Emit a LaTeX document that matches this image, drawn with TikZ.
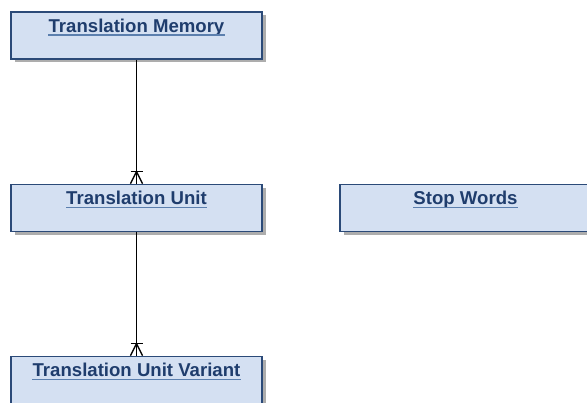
\documentclass[tikz,border=0pt]{standalone}
\usepackage{fontspec}
\setmainfont{Liberation Sans}
\usetikzlibrary{shadows}
\definecolor{entfill}{HTML}{D4E0F2}
\definecolor{entline}{HTML}{2B4A78}
\definecolor{enttext}{HTML}{1F3D6D}
\definecolor{entuline}{HTML}{5B7FAE}
\tikzset{
  entity/.style={draw=entline,line width=1.7pt,fill=entfill,minimum width=251pt,minimum height=47pt,
    inner sep=0pt,drop shadow={shadow xshift=3.5pt,shadow yshift=-3.5pt,fill=black!32,opacity=1}},
  title/.style={font=\fontsize{18.6}{20}\selectfont\bfseries,text=enttext,inner sep=0pt,anchor=base},
  uline/.style={draw=entuline,line width=1.5pt},
  rel/.style={draw=black,line width=1.3pt}
}
\newcommand{\enttitle}[2]{%
  \node[title] (#1t) at ([yshift=-21pt]#1.north) {#2};
  \draw[uline] ([yshift=-3pt]#1t.base west) -- ([yshift=-3pt]#1t.base east);}
\begin{document}
\begin{tikzpicture}[x=1pt,y=-1pt]
\useasboundingbox (0,0) rectangle (587,403);
% entities
\node[entity] (tm) at (136.5,35.5) {};
\node[entity] (tu) at (136.5,208) {};
\node[entity] (sw) at (465.5,208) {};
\node[entity] (tv) at (136.5,380) {};
\enttitle{tm}{Translation Memory}
\enttitle{tu}{Translation Unit}
\enttitle{sw}{Stop Words}
\enttitle{tv}{Translation Unit Variant}
% relations (one to many)
\foreach \a/\b in {tm/tu,tu/tv}{
  \draw[rel] (\a.south) -- (\b.north);
  \draw[rel] ([xshift=-6pt,yshift=12pt]\b.north) -- ([xshift=6pt,yshift=12pt]\b.north);
  \draw[rel] ([xshift=-6pt]\b.north) -- ([yshift=12pt]\b.north) -- ([xshift=6pt]\b.north);
}
\end{tikzpicture}
\end{document}
